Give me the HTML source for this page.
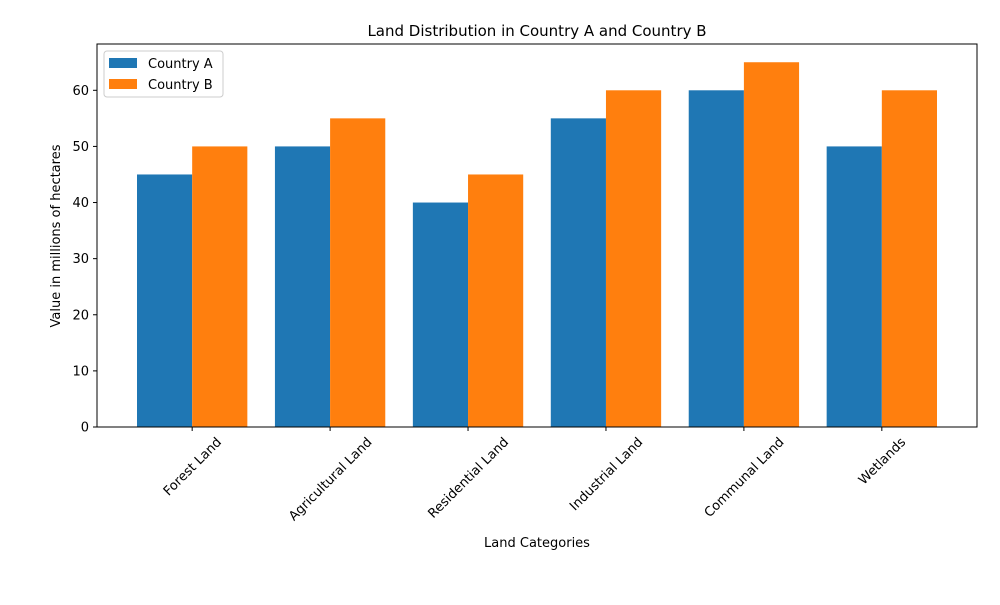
<!DOCTYPE html>
<html><head><meta charset="utf-8"><style>
body{margin:0;background:#fff;font-family:"Liberation Sans","DejaVu Sans",sans-serif;}
svg text{font-family:"DejaVu Sans","Liberation Sans",sans-serif;}
</style></head><body>
<svg id="chart" width="1000" height="600" xmlns="http://www.w3.org/2000/svg">
<rect width="1000" height="600" fill="#fff"/>
<text x="537" y="36" font-size="15" text-anchor="middle">Land Distribution in Country A and Country B</text>
<g id="bars"></g>
<g id="axes"></g>
<text x="537" y="547" font-size="13" text-anchor="middle">Land Categories</text>
<text transform="translate(60,236) rotate(-90)" font-size="13" text-anchor="middle">Value in millions of hectares</text>
<g>
<rect x="104" y="51" width="119" height="46" rx="3" fill="#fff" stroke="#ccc"/>
<rect x="109" y="58" width="28" height="10" fill="#1f77b4"/>
<text x="148" y="68" font-size="13">Country A</text>
<rect x="109" y="79" width="28" height="10" fill="#ff7f0e"/>
<text x="148" y="89" font-size="13">Country B</text>
</g>
</svg>
<script>
const categories=["Forest Land","Agricultural Land","Residential Land","Industrial Land","Communal Land","Wetlands"];
const countryA=[45,50,40,55,60,50];
const countryB=[50,55,45,60,65,60];
const yTicks=[0,10,20,30,40,50,60];
const L=97,R=977,T=44,B=427;
const yMax=68.25,xMin=-0.69,xMax=5.69;
const ns="http://www.w3.org/2000/svg";
const xs=v=>L+(v-xMin)/(xMax-xMin)*(R-L);
const ys=v=>B-v/yMax*(B-T);
function mk(tag,attrs,parent){const e=document.createElementNS(ns,tag);for(const k in attrs)e.setAttribute(k,attrs[k]);parent.appendChild(e);return e;}
const bars=document.getElementById('bars'),axes=document.getElementById('axes');
const w=0.4;
categories.forEach((c,i)=>{
 const a=mk('rect',{x:xs(i-w),y:ys(countryA[i]),width:xs(i)-xs(i-w),height:B-ys(countryA[i]),fill:'#1f77b4'},bars);
 
 
 const b=mk('rect',{x:xs(i),y:ys(countryB[i]),width:xs(i+w)-xs(i),height:B-ys(countryB[i]),fill:'#ff7f0e'},bars);
 
 
 const x=xs(i);
 mk('line',{x1:x,x2:x,y1:B,y2:B+4,stroke:'#000'},axes);
 const t=mk('text',{x:0,y:4.5,'font-size':13,'text-anchor':'middle'},axes);
 t.textContent=c;
 
 
 const len=t.getComputedTextLength();
 const bh=(len+13)*0.7071;
 t.setAttribute('transform',`translate(${x},${B+8+bh/2}) rotate(-45)`);
});
yTicks.forEach(v=>{
 const y=ys(v);
 mk('line',{x1:L-4,x2:L,y1:y,y2:y,stroke:'#000'},axes);
 const t=mk('text',{x:L-8,y:y+4.5,'font-size':13,'text-anchor':'end'},axes);
 t.textContent=v;
 
 
});
const f=mk('rect',{x:L,y:T,width:R-L,height:B-T,fill:'none',stroke:'#000','stroke-width':1},axes);


</script>
</body></html>
